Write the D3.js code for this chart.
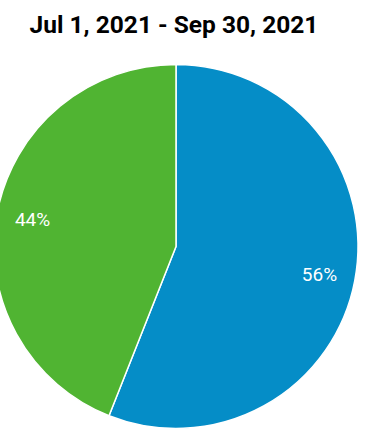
<!DOCTYPE html>
<html>
<head>
<meta charset="utf-8">
<script src="https://cdn.jsdelivr.net/npm/d3@7"></script>
<style>
  body { margin: 0; background: #fff; }
  svg { display: block; font-family: Roboto, sans-serif; }
</style>
</head>
<body>
<div id="chart"></div>
<script>
var title = "Jul 1, 2021 - Sep 30, 2021";
var labels = ["Segment A", "Segment B"];
var values = [56, 44];
var colors = ["#058dc7", "#50b432"];

var width = 373, height = 436;
var cx = 176, cy = 246.5, radius = 182;

var svg = d3.select("#chart")
    .append("svg")
    .attr("width", width)
    .attr("height", height);

svg.append("text")
    .attr("x", 174)
    .attr("y", 33)
    .attr("text-anchor", "middle")
    .style("font-size", "24.5px")
    .style("font-weight", "bold")
    .style("fill", "#000")
    .text(title);

var pie = d3.pie().sort(null).value(function (d) { return d; });
var arc = d3.arc().innerRadius(0).outerRadius(radius);
var labelArc = d3.arc().innerRadius(146).outerRadius(146);

var g = svg.append("g")
    .attr("transform", "translate(" + cx + "," + cy + ")");

var slices = g.selectAll(".slice")
    .data(pie(values))
    .enter().append("g")
    .attr("class", "slice");

slices.append("path")
    .attr("d", arc)
    .attr("fill", function (d, i) { return colors[i]; })
    .attr("stroke", "#fff")
    .attr("stroke-width", 1.5)
    .attr("stroke-linejoin", "round");

slices.append("text")
    .attr("transform", function (d) { return "translate(" + labelArc.centroid(d) + ")"; })
    .attr("text-anchor", "middle")
    .attr("dy", "0.35em")
    .style("font-size", "19px")
    .style("fill", "#fff")
    .text(function (d) { return d.data + "%"; });
</script>
</body>
</html>
